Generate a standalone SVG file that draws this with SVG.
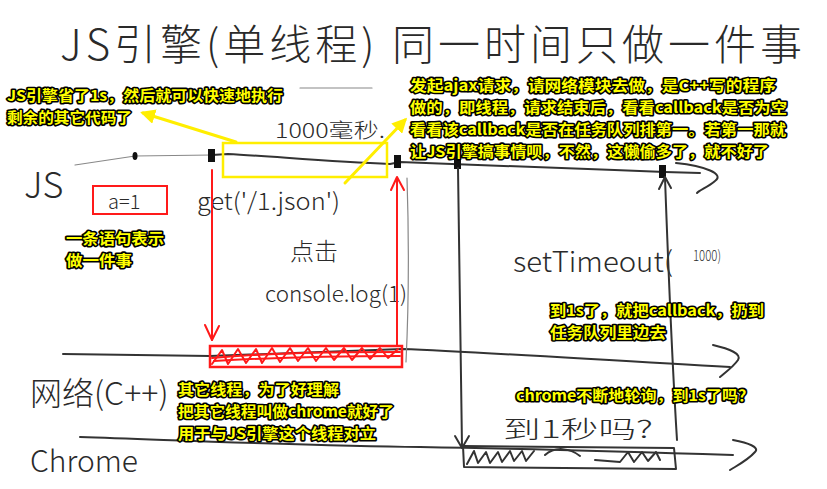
<svg xmlns="http://www.w3.org/2000/svg" width="827" height="489" viewBox="0 0 827 489">
<style>
.hand{font-family:"Noto Sans CJK SC","DejaVu Sans",sans-serif;font-weight:300;fill:#2a2a2a}
.note{font-family:"Noto Sans CJK SC","Liberation Sans",sans-serif;font-weight:bold;font-size:15px;fill:#ffff00;stroke:#000;stroke-width:3.2px;stroke-linejoin:round;paint-order:stroke}
.ink{fill:none;stroke:#333;stroke-width:2;stroke-linecap:round;stroke-linejoin:round}
.thin{fill:none;stroke:#888;stroke-width:1.2;stroke-linecap:round}
.red{fill:none;stroke:#ff1a1a;stroke-width:2;stroke-linecap:round;stroke-linejoin:round}
.yel{fill:none;stroke:#ffee00;stroke-width:3;stroke-linecap:round}
</style>
<defs>
<marker id="ya" viewBox="0 0 10 10" refX="8" refY="5" markerWidth="5" markerHeight="5" orient="auto-start-reverse" markerUnits="strokeWidth">
<path d="M0,0 L10,5 L0,10 z" fill="#ffee00"/>
</marker>
</defs>
<rect width="827" height="489" fill="#fff"/>

<g id="title">
<text class="hand" x="60" y="60" font-size="42" textLength="742" lengthAdjust="spacing">JS引擎(单线程) 同一时间只做一件事</text>
<path class="thin" d="M300,88 L372,88"/>
</g>

<g id="lane-labels">
<text class="hand" x="24" y="198" font-size="36">JS</text>
<text class="hand" x="30" y="405" font-size="32">网络(C++)</text>
<text class="hand" x="30" y="472" font-size="30">Chrome</text>
</g>

<g id="js-timeline">
<path class="thin" d="M75,165 L135,156 L212,155"/>
<path class="ink" d="M212,155 L228,154 C270,156 330,162 390,164 L400,162 C440,164 560,168 665,172 L700,173"/>
<path class="ink" d="M676,163 C705,166 725,174 715,181 C708,187 700,190 697,193"/>
<ellipse cx="135" cy="156" rx="2.5" ry="4" fill="#111"/>
<rect x="208" y="149" width="7" height="13" fill="#111"/>
<rect x="394" y="155" width="7" height="13" fill="#111"/>
<rect x="454" y="157" width="7" height="12" fill="#111"/>
<rect x="659" y="165" width="7" height="13" fill="#111"/>
</g>

<g id="network-timeline">
<path class="ink" d="M63,354 L210,356 L402,349 C480,352 600,360 730,367"/>
<path class="ink" d="M713,345 C730,349 742,354 738,360 C734,366 726,372 720,377"/>
</g>

<g id="chrome-timeline">
<path class="ink" d="M80,437 C200,441 320,446 420,447 C540,449 640,452 733,455"/>
<path class="ink" d="M733,440 C748,443 760,447 755,452 C748,460 738,465 730,470"/>
</g>

<g id="a1">
<rect x="93" y="186" width="74" height="28" fill="none" stroke="#ff1a1a" stroke-width="2"/>
<text class="hand" x="108" y="209" font-size="20" fill="#555">a=1</text>
</g>

<g id="get">
<text class="hand" x="197" y="210" font-size="24" textLength="143" lengthAdjust="spacingAndGlyphs">get('/1.json')</text>
<text class="hand" x="290" y="260" font-size="24">点击</text>
<text class="hand" x="265" y="302" font-size="22" textLength="142" lengthAdjust="spacingAndGlyphs">console.log(1)</text>
</g>

<g id="ms1000">
<text class="hand" x="275" y="138" font-size="20" textLength="110" lengthAdjust="spacingAndGlyphs">1000毫秒.</text>
</g>

<g id="settimeout">
<text class="hand" x="513" y="272" font-size="28" textLength="160" lengthAdjust="spacingAndGlyphs">setTimeout(</text>
<text class="hand" x="693" y="261" font-size="15" textLength="28" lengthAdjust="spacingAndGlyphs">1000)</text>
</g>

<g id="wait">
<text class="hand" x="503" y="438" font-size="24" fill="#555" textLength="150" lengthAdjust="spacingAndGlyphs">到1秒吗?</text>
</g>

<g id="yellow-box">
<rect x="223" y="143" width="164" height="34" fill="none" stroke="#ffee00" stroke-width="2.5"/>
</g>

<g id="red-bar">
<rect x="210" y="346" width="192" height="21" fill="none" stroke="#ff1a1a" stroke-width="2.5"/>
<path class="red" stroke-width="2.5" d="M212,364 L222,350 L228,364 L238,349 L246,363 L256,349 L262,363 L272,348 L280,362 L290,348 L298,361 L308,348 L316,361 L326,348 L334,360 L344,348 L352,360 L362,348 L370,359 L380,348 L388,358 L398,349"/>
<path class="red" stroke-width="2" d="M212,358 C280,352 340,352 400,352 M214,361 C280,357 340,356 400,356"/>
</g>

<g id="chrome-bar">
<path class="ink" stroke-width="1.8" d="M463,446 L674,448 L676,469 L464,467 Z"/>
<path class="ink" stroke-width="1.5" d="M467,464 L474,451 L478,463 L486,452 L490,463 L498,452 L502,462 L510,451 L514,461 L522,451 L526,461 L534,451 M545,455 C555,446 570,448 580,456 M595,460 L620,462 L628,452 L634,462 L642,452 L648,461 L656,452 L660,460"/>
</g>

<g id="connectors">
<path class="red" d="M212,170 L212,340"/>
<path class="red" d="M205,325 L212,340 L219,326"/>
<path class="red" d="M397,345 L397,178"/>
<path class="red" d="M391,190 L397,177 L404,190"/>
<path class="thin" d="M407,178 C409,240 409,300 406,362"/>
<path class="ink" d="M458,168 L462,447"/>
<path class="ink" d="M455,436 L462,448 L469,436"/>
<path class="ink" d="M677,440 C672,360 668,260 665,178"/>
<path class="ink" d="M659,189 L665,177 L671,188"/>
<path class="yel" marker-end="url(#ya)" d="M236,142 L143,113"/>
<path class="yel" marker-end="url(#ya)" d="M345,183 L405,120"/>
</g>

<g id="note-js">
<text class="note" x="7" y="101" textLength="276" lengthAdjust="spacingAndGlyphs">JS引擎省了1s，然后就可以快速地执行</text>
<text class="note" x="7" y="123" textLength="125" lengthAdjust="spacingAndGlyphs">剩余的其它代码了</text>
</g>

<g id="note-ajax">
<text class="note" x="410" y="91" textLength="366" lengthAdjust="spacingAndGlyphs">发起ajax请求，请网络模块去做，是C++写的程序</text>
<text class="note" x="410" y="113" textLength="377" lengthAdjust="spacingAndGlyphs">做的，即线程，请求结束后，看看callback是否为空</text>
<text class="note" x="410" y="135" textLength="376" lengthAdjust="spacingAndGlyphs">看看该callback是否在任务队列排第一。若第一那就</text>
<text class="note" x="410" y="157" textLength="359" lengthAdjust="spacingAndGlyphs">让JS引擎搞事情呗，不然，这懒偷多了，就不好了</text>
</g>

<g id="note-stmt">
<text class="note" x="66" y="244" textLength="98" lengthAdjust="spacingAndGlyphs">一条语句表示</text>
<text class="note" x="66" y="266" textLength="66" lengthAdjust="spacingAndGlyphs">做一件事</text>
</g>

<g id="note-1s">
<text class="note" x="550" y="316" textLength="214" lengthAdjust="spacingAndGlyphs">到1s了，就把callback，扔到</text>
<text class="note" x="550" y="338" textLength="116" lengthAdjust="spacingAndGlyphs">任务队列里边去</text>
</g>

<g id="note-chrome">
<text class="note" x="178" y="395" textLength="161" lengthAdjust="spacingAndGlyphs">其它线程，为了好理解</text>
<text class="note" x="178" y="417" textLength="216" lengthAdjust="spacingAndGlyphs">把其它线程叫做chrome就好了</text>
<text class="note" x="178" y="439" textLength="198" lengthAdjust="spacingAndGlyphs">用于与JS引擎这个线程对立</text>
</g>

<g id="note-poll">
<text class="note" x="516" y="401" textLength="238" lengthAdjust="spacingAndGlyphs">chrome不断地轮询，到1s了吗？</text>
</g>
</svg>
